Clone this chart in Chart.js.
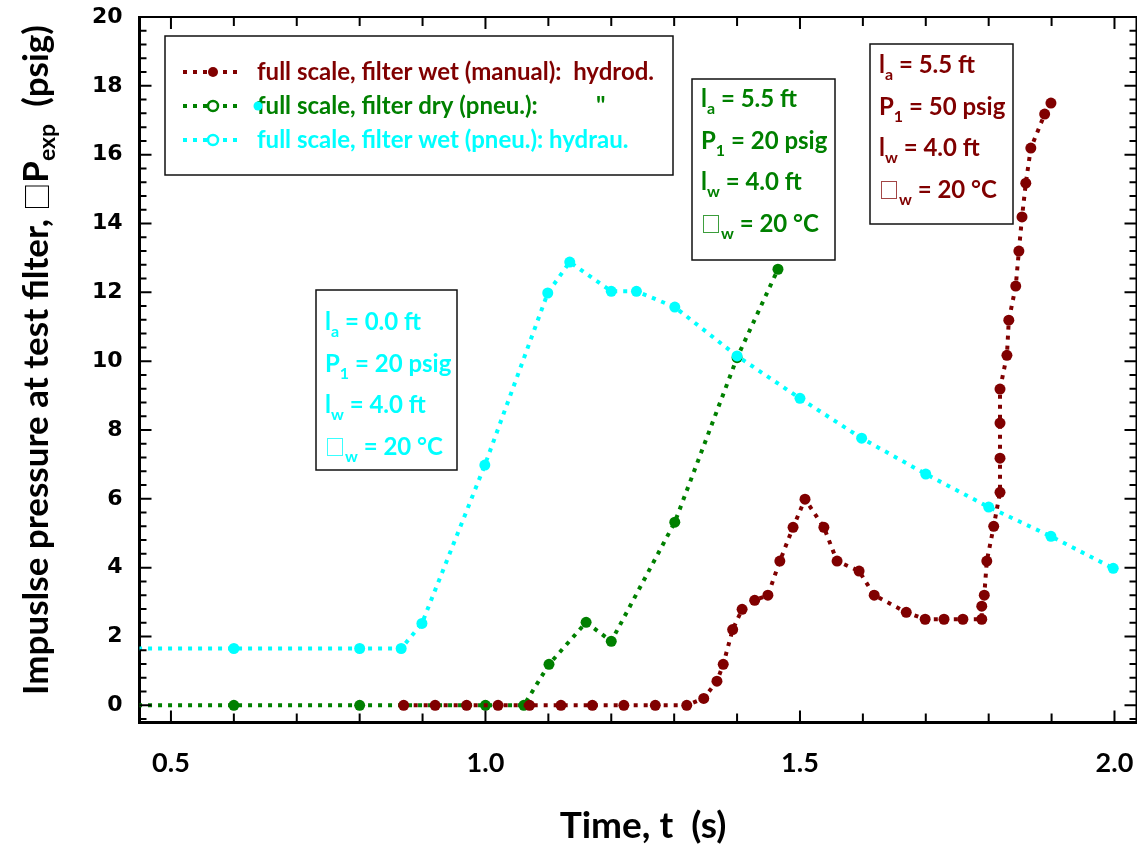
<!DOCTYPE html>
<html>
<head>
<meta charset="utf-8">
<script src="https://cdn.jsdelivr.net/npm/chart.js@4.4.1/dist/chart.umd.min.js"></script>
<style>
  html, body { margin: 0; padding: 0; background: #fff; }
  #wrap { width: 1137px; height: 850px; }
</style>
</head>
<body>
<div id="wrap"><canvas id="pressure-chart"></canvas></div>
<script>
/* global Chart */

// series: time (s) and impulse pressure (psig)
const wetManualT = [0.87, 0.92, 0.97, 1.02, 1.07, 1.12, 1.17, 1.22, 1.27, 1.32, 1.347, 1.368, 1.378, 1.393, 1.408, 1.428, 1.449, 1.468, 1.489, 1.508, 1.538, 1.559, 1.594, 1.618, 1.669, 1.699, 1.729, 1.759, 1.789, 1.789, 1.793, 1.797, 1.808, 1.818, 1.818, 1.818, 1.818, 1.829, 1.832, 1.843, 1.848, 1.853, 1.859, 1.867, 1.889, 1.899];
const wetManualP = [0, 0, 0, 0, 0, 0, 0, 0, 0, 0, 0.2, 0.7, 1.19, 2.2, 2.79, 3.05, 3.2, 4.19, 5.17, 5.99, 5.17, 4.19, 3.9, 3.2, 2.7, 2.5, 2.5, 2.5, 2.5, 2.88, 3.2, 4.19, 5.2, 6.19, 7.18, 8.2, 9.19, 10.17, 11.19, 12.18, 13.2, 14.19, 15.17, 16.19, 17.18, 17.5];

const dryPneuT = [0.40, 0.60, 0.80, 1.00, 1.061, 1.101, 1.16, 1.20, 1.301, 1.40, 1.465];
const dryPneuP = [0, 0, 0, 0, 0, 1.19, 2.41, 1.86, 5.32, 10.1, 12.67];

const wetPneuT = [0.40, 0.60, 0.80, 0.866, 0.899, 0.999, 1.099, 1.134, 1.20, 1.24, 1.301, 1.40, 1.50, 1.598, 1.70, 1.80, 1.899, 1.998];
const wetPneuP = [1.65, 1.65, 1.65, 1.65, 2.38, 6.98, 11.98, 12.88, 12.03, 12.03, 11.57, 10.15, 8.92, 7.76, 6.72, 5.76, 4.91, 3.98];

const xTickVals = [0.5, 1.0, 1.5, 2.0];
const xTickLabels = ['0.5', '1.0', '1.5', '2.0'];
const yTickVals = [0, 2, 4, 6, 8, 10, 12, 14, 16, 18, 20];
const yTickLabels = ['0', '2', '4', '6', '8', '10', '12', '14', '16', '18', '20'];

const legendLabels = [
  'full scale, filter wet (manual):  hydrod.',
  'full scale, filter dry (pneu.):',
  'full scale, filter wet (pneu.): hydrau.'
];

// [symbol, subscript, rest]
const wetPneuNotes = [['l', 'a', ' = 0.0 ft'], ['P', '1', ' = 20 psig'], ['l', 'w', ' = 4.0 ft'], ['\u25A1', 'w', ' = 20 \u00B0C']];
const dryPneuNotes = [['l', 'a', ' = 5.5 ft'], ['P', '1', ' = 20 psig'], ['l', 'w', ' = 4.0 ft'], ['\u25A1', 'w', ' = 20 \u00B0C']];
const wetManualNotes = [['l', 'a', ' = 5.5 ft'], ['P', '1', ' = 50 psig'], ['l', 'w', ' = 4.0 ft'], ['\u25A1', 'w', ' = 20 \u00B0C']];

const RED = '#800000';
const GREEN = '#008000';
const CYAN = '#00FFFF';

const toPoints = (ts, ps) => ts.map((t, i) => ({ x: t, y: ps[i] }));

const seriesStyle = (color, order) => ({
  borderColor: color,
  backgroundColor: color,
  borderWidth: 4,
  borderDash: [4, 6],
  pointRadius: 5.5,
  pointBorderWidth: 0,
  pointBackgroundColor: color,
  tension: 0,
  order
});

// draws a run of text pieces [text, font, dy] one after another
const drawRun = (ctx, parts, x, y) => {
  let tx = x;
  parts.forEach(([text, font, dy]) => {
    ctx.font = font;
    ctx.fillText(text, tx, y + dy);
    tx += ctx.measureText(text).width;
  });
  return tx - x;
};
const runWidth = (ctx, parts) => parts.reduce((w, [text, font]) => {
  ctx.font = font;
  return w + ctx.measureText(text).width;
}, 0);

const BOX_FONT = 'bold 24px Lato';
const SUB_FONT = 'bold 16px Lato';
const SQUARE_FONT = '20px "Noto Sans CJK SC"';

// boxes, ticks pointing inward, axis titles
const decorations = {
  id: 'decorations',
  afterDraw(chart) {
    const { ctx, chartArea: a, scales: { x, y } } = chart;
    ctx.save();

    // top / right frame
    ctx.strokeStyle = '#000';
    ctx.lineWidth = 2;
    ctx.beginPath();
    ctx.moveTo(a.left, a.top);
    ctx.lineTo(a.right, a.top);
    ctx.lineTo(a.right, a.bottom);
    ctx.stroke();

    // inward tick marks
    ctx.beginPath();
    for (let k = 5; k <= 20; k++) {
      const px = x.getPixelForValue(k / 10);
      const len = k % 5 === 0 ? 12 : 9;
      ctx.moveTo(px, a.bottom);
      ctx.lineTo(px, a.bottom - len);
      ctx.moveTo(px, a.top);
      ctx.lineTo(px, a.top + len);
    }
    for (let k = -1; k <= 50; k++) {
      const py = y.getPixelForValue(k * 0.4);
      const len = k % 5 === 0 ? 12 : 7;
      ctx.moveTo(a.left, py);
      ctx.lineTo(a.left + len, py);
      ctx.moveTo(a.right, py);
      ctx.lineTo(a.right - len, py);
    }
    ctx.stroke();

    // legend
    ctx.textAlign = 'left';
    ctx.textBaseline = 'alphabetic';
    ctx.fillStyle = '#fff';
    ctx.fillRect(165, 36, 508, 139);
    ctx.strokeStyle = '#111';
    ctx.lineWidth = 1.5;
    ctx.strokeRect(165, 36, 508, 139);
    const colors = [RED, GREEN, CYAN];
    legendLabels.forEach((label, i) => {
      const cy = 72 + i * 34;
      ctx.strokeStyle = colors[i];
      ctx.lineWidth = 4;
      ctx.setLineDash([4, 6]);
      ctx.beginPath();
      ctx.moveTo(183, cy);
      ctx.lineTo(240, cy);
      ctx.stroke();
      ctx.setLineDash([]);
      ctx.beginPath();
      ctx.arc(213, cy, 5, 0, Math.PI * 2);
      if (i === 0) {
        ctx.fillStyle = colors[i];
        ctx.fill();
      } else {
        ctx.fillStyle = '#fff';
        ctx.fill();
        ctx.lineWidth = 2.5;
        ctx.stroke();
      }
      ctx.fillStyle = colors[i];
      ctx.font = 'bold 24px Lato';
      ctx.fillText(label, 257, cy + 8);
    });
    ctx.fillStyle = GREEN;
    ctx.fillText('"', 596, 114);
    ctx.fillStyle = CYAN;
    ctx.beginPath();
    ctx.arc(258, 106, 4.5, 0, Math.PI * 2);
    ctx.fill();

    // parameter boxes
    const boxes = [
      { left: 316, top: 290, w: 141, h: 180, base: 40, color: CYAN, notes: wetPneuNotes },
      { left: 692, top: 79, w: 143, h: 181, base: 28, color: GREEN, notes: dryPneuNotes },
      { left: 870, top: 44, w: 143, h: 180, base: 29, color: RED, notes: wetManualNotes }
    ];
    boxes.forEach(b => {
      ctx.fillStyle = '#fff';
      ctx.fillRect(b.left, b.top, b.w, b.h);
      ctx.strokeStyle = '#111';
      ctx.lineWidth = 1.5;
      ctx.strokeRect(b.left, b.top, b.w, b.h);
      ctx.fillStyle = b.color;
      b.notes.forEach((n, i) => {
        const by = b.top + b.base + i * 41.7;
        const symFont = n[0] === '\u25A1' ? SQUARE_FONT : BOX_FONT;
        drawRun(ctx, [[n[0], symFont, 0], [n[1], SUB_FONT, 7], [n[2], BOX_FONT, 0]], b.left + 9, by);
      });
    });

    // axis titles
    ctx.fillStyle = '#000';
    ctx.font = 'bold 37px Lato';
    ctx.textAlign = 'center';
    ctx.textBaseline = 'middle';
    ctx.fillText('Time, t  (s)', 643, 826);

    const big = 'bold 35px Lato';
    const titleParts = [
      ['Impuslse pressure at test filter, ', big, 0],
      ['\u25A1', '28px "Noto Sans CJK SC"', 0],
      ['P', big, 0],
      ['exp', 'bold 23px Lato', 7],
      ['  (psig)', big, 0]
    ];
    ctx.save();
    ctx.translate(36, 360);
    ctx.rotate(-Math.PI / 2);
    ctx.textAlign = 'left';
    ctx.textBaseline = 'alphabetic';
    const tw = runWidth(ctx, titleParts);
    drawRun(ctx, titleParts, -tw / 2, 12);
    ctx.restore();

    ctx.restore();
  }
};

new Chart(document.getElementById('pressure-chart'), {
  type: 'line',
  data: {
    datasets: [
      { label: legendLabels[2], data: toPoints(wetPneuT, wetPneuP), ...seriesStyle(CYAN, 0) },
      { label: legendLabels[0], data: toPoints(wetManualT, wetManualP), ...seriesStyle(RED, 1) },
      { label: legendLabels[1], data: toPoints(dryPneuT, dryPneuP), ...seriesStyle(GREEN, 2) }
    ]
  },
  options: {
    responsive: true,
    maintainAspectRatio: false,
    animation: false,
    devicePixelRatio: 1,
    layout: {
      autoPadding: false,
      padding: { left: 0, right: 0.5, top: 17, bottom: 0 }
    },
    plugins: {
      legend: { display: false },
      tooltip: { enabled: false }
    },
    scales: {
      x: {
        type: 'linear',
        min: 0.45,
        max: 2.035,
        afterFit: scale => {
          scale.height = 127.5;
          scale.paddingLeft = 0;
          scale.paddingRight = 0;
        },
        afterBuildTicks: scale => { scale.ticks = xTickVals.map(v => ({ value: v })); },
        border: { display: true, color: '#000', width: 3 },
        grid: { drawOnChartArea: false, drawTicks: false },
        ticks: {
          autoSkip: false,
          maxRotation: 0,
          padding: 25,
          color: '#000',
          font: { family: 'Lato', size: 27, weight: 'bold' },
          callback: (v, i) => xTickLabels[i]
        }
      },
      y: {
        min: -0.5,
        max: 20,
        afterFit: scale => {
          scale.width = 139.5;
          scale.paddingTop = 0;
          scale.paddingBottom = 0;
        },
        afterBuildTicks: scale => { scale.ticks = yTickVals.map(v => ({ value: v })); },
        border: { display: true, color: '#000', width: 3 },
        grid: { drawOnChartArea: false, drawTicks: false },
        ticks: {
          autoSkip: false,
          padding: 17,
          color: '#000',
          font: { family: '"DejaVu Sans"', size: 22, weight: 'bold' },
          callback: (v, i) => yTickLabels[i]
        }
      }
    }
  },
  plugins: [decorations]
});
</script>
</body>
</html>
